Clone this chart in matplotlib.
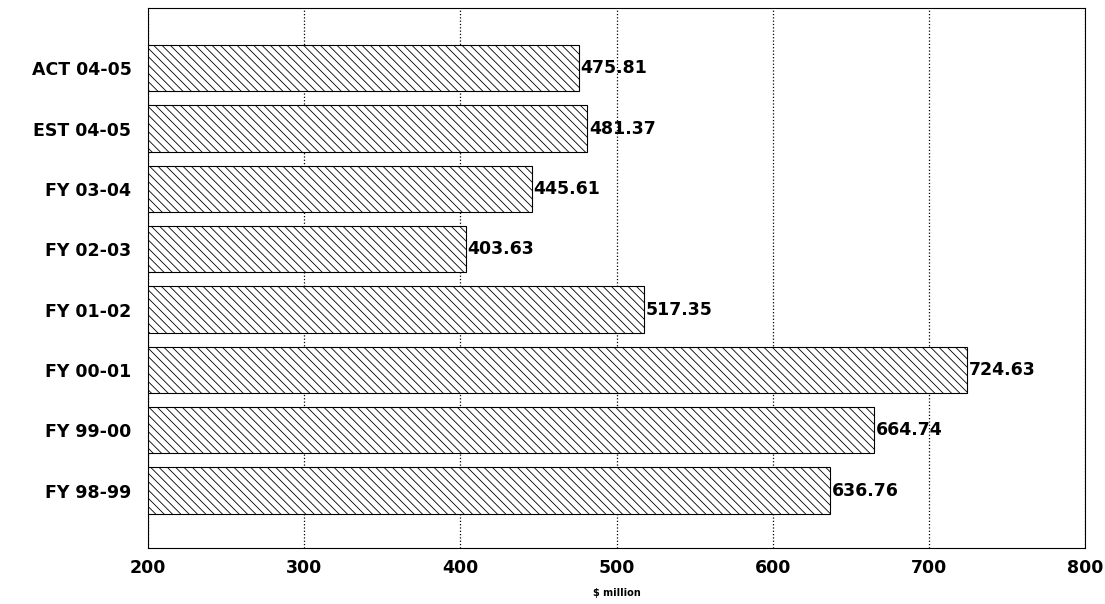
import matplotlib
matplotlib.use("Agg")
import matplotlib.pyplot as plt

labels = ["FY 98-99", "FY 99-00", "FY 00-01", "FY 01-02", "FY 02-03", "FY 03-04", "EST 04-05", "ACT 04-05"]
values = [636.76, 664.74, 724.63, 517.35, 403.63, 445.61, 481.37, 475.81]

plt.rcParams['font.family'] = ['DejaVu Sans']
plt.rcParams['hatch.linewidth'] = 0.6

fig = plt.figure(figsize=(11.05, 6.04), dpi=100)
ax = fig.add_axes([0.134, 0.093, 0.848, 0.894])

y = list(range(len(labels)))
ax.barh(y, [v - 200 for v in values], left=200, height=0.77, color='white',
        edgecolor='black', hatch='\\\\\\\\', linewidth=0.8, zorder=3)
for yi, v in zip(y, values):
    ax.text(v + 1, yi, f"{v:.2f}", va='center', ha='left', fontsize=12.5, fontweight='bold', zorder=4)

ax.set_xlim(200, 800)
ax.set_ylim(-0.95, 8.0)
ax.set_xticks(range(200, 801, 100))
ax.set_yticks(y)
ax.set_yticklabels(labels, fontsize=12.5, fontweight='bold')
for t in ax.get_xticklabels():
    t.set_fontsize(12.5)
    t.set_fontweight('bold')
ax.tick_params(length=0, pad=12)
ax.tick_params(axis='x', pad=8)
ax.grid(axis='x', linestyle=':', color='black', linewidth=0.9, zorder=0)
ax.set_xlabel("$ million", fontsize=7, fontweight='bold', labelpad=8)
for s in ax.spines.values():
    s.set_linewidth(0.8)

fig.savefig("out.png", dpi=100)
